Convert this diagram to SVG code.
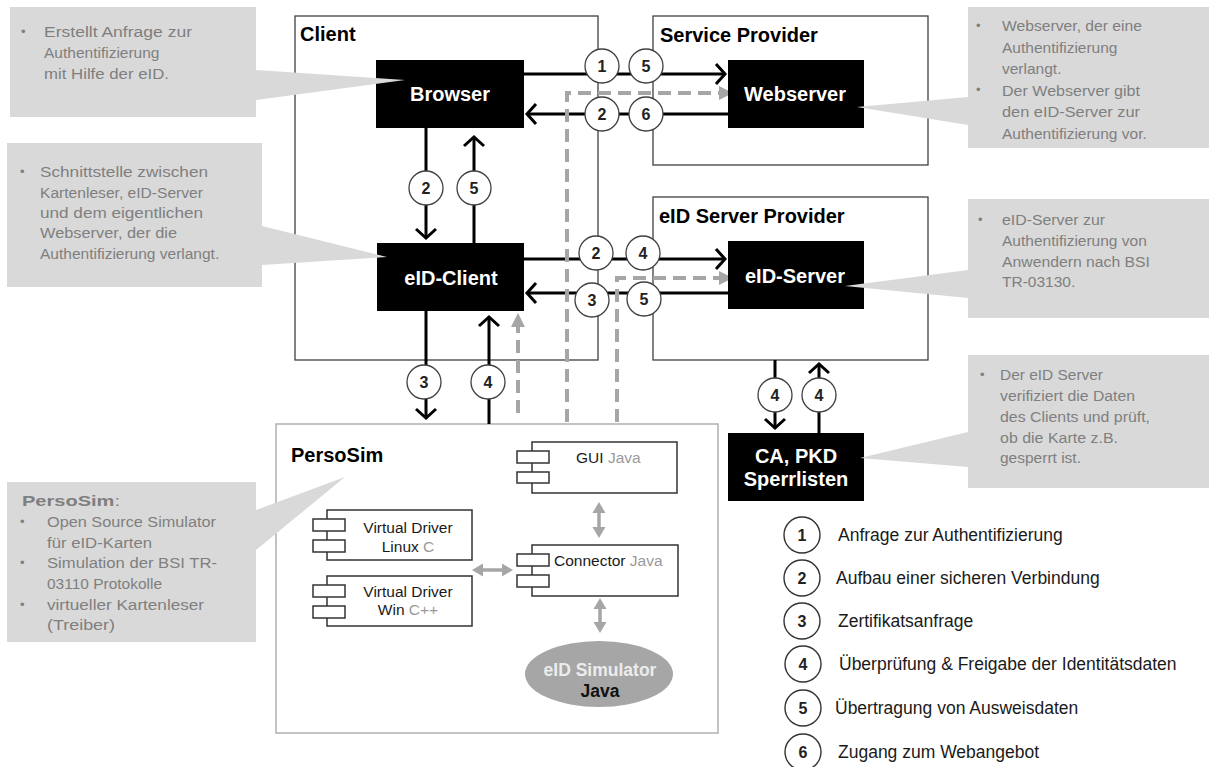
<svg xmlns="http://www.w3.org/2000/svg" width="1209" height="767" viewBox="0 0 1209 767">
<style>
text{font-family:"Liberation Sans",Arial,Helvetica,sans-serif}
.box{fill:#fff;stroke:#404040;stroke-width:1.3}
.pbox{fill:#fff;stroke:#b0b0b0;stroke-width:1.5}
.node{fill:#000}
.ntxt{font-weight:bold;font-size:20px;fill:#fff;text-anchor:middle}
.title{font-weight:bold;font-size:20px;fill:#000}
.call{fill:#d9d9d9}
.ct{font-size:15.5px;fill:#7f7f7f}
.bul{font-size:13px;fill:#7f7f7f}
.circ{fill:#fff;stroke:#404040;stroke-width:1.3}
.num{font-weight:bold;font-size:16px;fill:#222;text-anchor:middle}
.arr{stroke:#000;stroke-width:3;fill:none;marker-end:url(#ch)}
.dash{stroke:#a6a6a6;stroke-width:4;stroke-dasharray:13 7;fill:none;marker-end:url(#gt)}
.garr{stroke:#a6a6a6;stroke-width:3.5;fill:none;marker-start:url(#gh);marker-end:url(#gh)}
.comp{fill:#fff;stroke:#333;stroke-width:1.5}
.ctx{font-size:15.5px;fill:#1a1a1a}
.gr{fill:#9a9a9a}
.leg{font-size:17.5px;fill:#1a1a1a}
.lcirc{fill:#fff;stroke:#333;stroke-width:1.4}
</style>
<defs>
<marker id="ch" markerUnits="userSpaceOnUse" markerWidth="30" markerHeight="30" viewBox="-15 -15 30 30" refX="0" refY="0" orient="auto" overflow="visible">
<path d="M-9,-10 L0,0 L-9,10" fill="none" stroke="#000" stroke-width="3"/>
</marker>
<marker id="gt" markerUnits="userSpaceOnUse" markerWidth="30" markerHeight="30" viewBox="-15 -15 30 30" refX="0" refY="0" orient="auto" overflow="visible">
<path d="M-8,-7 L6,0 L-8,7 Z" fill="#a6a6a6"/>
</marker>
<marker id="gh" markerUnits="userSpaceOnUse" markerWidth="30" markerHeight="30" viewBox="-15 -15 30 30" refX="0" refY="0" orient="auto-start-reverse" overflow="visible">
<path d="M-5,-6.5 L6,0 L-5,6.5 Z" fill="#a6a6a6"/>
</marker>
</defs>

<g id="containers">
<g id="client-box"><rect class="box" x="295" y="16" width="303" height="344"/><text class="title" x="300" y="41">Client</text></g>
<g id="service-provider-box"><rect class="box" x="653" y="16" width="275" height="149"/><text class="title" x="660" y="42" font-size="19">Service Provider</text></g>
<g id="eid-server-provider-box"><rect class="box" x="653" y="197" width="275" height="163"/><text class="title" x="659" y="223" font-size="19">eID Server Provider</text></g>
<g id="persosim-box"><rect class="pbox" x="276" y="424" width="442" height="309"/><text class="title" x="291" y="462">PersoSim</text></g>
</g>

<g id="connectors">
<path class="arr" d="M524,74 H725"/>
<path class="arr" d="M728,114 H527"/>
<path class="arr" d="M524,259 H725"/>
<path class="arr" d="M728,293 H527"/>
<path class="arr" d="M426,128 V238"/>
<path class="arr" d="M474,243 V137"/>
<path class="arr" d="M426,311 V418"/>
<path class="arr" d="M489,424 V317"/>
<path class="arr" d="M775,360 V428"/>
<path class="arr" d="M819,433 V364"/>
<path class="dash" d="M567,422 V93 H727"/>
<path class="dash" d="M617,422 V278 H727"/>
<path class="dash" d="M518,413 V319"/>
<path class="garr" d="M599,508 V532"/>
<path class="garr" d="M600,604 V627"/>
<path class="garr" d="M478,570 H507"/>
</g>

<g id="step-labels">
<circle class="circ" cx="602" cy="66" r="17"/><text class="num" x="602" y="72">1</text>
<circle class="circ" cx="646" cy="66" r="17"/><text class="num" x="646" y="72">5</text>
<circle class="circ" cx="602" cy="114" r="17"/><text class="num" x="602" y="120">2</text>
<circle class="circ" cx="646" cy="114" r="17"/><text class="num" x="646" y="120">6</text>
<circle class="circ" cx="596" cy="253" r="17"/><text class="num" x="596" y="259">2</text>
<circle class="circ" cx="643" cy="253" r="17"/><text class="num" x="643" y="259">4</text>
<circle class="circ" cx="592" cy="300" r="17"/><text class="num" x="592" y="306">3</text>
<circle class="circ" cx="644" cy="299" r="17"/><text class="num" x="644" y="305">5</text>
<circle class="circ" cx="426" cy="188" r="17"/><text class="num" x="426" y="194">2</text>
<circle class="circ" cx="474" cy="188" r="17"/><text class="num" x="474" y="194">5</text>
<circle class="circ" cx="424" cy="382" r="17"/><text class="num" x="424" y="388">3</text>
<circle class="circ" cx="488" cy="382" r="17"/><text class="num" x="488" y="388">4</text>
<circle class="circ" cx="775" cy="395" r="17"/><text class="num" x="775" y="401">4</text>
<circle class="circ" cx="819" cy="395" r="17"/><text class="num" x="819" y="401">4</text>
</g>

<g id="browser"><rect class="node" x="376" y="60" width="148" height="68"/><text class="ntxt" x="450" y="101">Browser</text></g>
<g id="webserver"><rect class="node" x="728" y="60" width="136" height="68"/><text class="ntxt" x="795" y="101">Webserver</text></g>
<g id="eid-client"><rect class="node" x="377" y="243" width="147" height="68"/><text class="ntxt" x="451" y="285">eID-Client</text></g>
<g id="eid-server"><rect class="node" x="728" y="241" width="136" height="68"/><text class="ntxt" x="795" y="283">eID-Server</text></g>
<g id="ca-pkd"><rect class="node" x="728" y="433" width="136" height="68"/><text class="ntxt" x="796" y="463">CA, PKD</text><text class="ntxt" x="796" y="486">Sperrlisten</text></g>

<g id="gui-java">
<rect class="comp" x="532" y="442" width="145" height="51"/>
<rect class="comp" x="517" y="451" width="32" height="12"/><rect class="comp" x="517" y="472" width="32" height="11"/>
<text class="ctx" x="576" y="463">GUI <tspan class="gr">Java</tspan></text>
</g>
<g id="virtual-driver-linux">
<rect class="comp" x="327" y="510" width="145" height="50"/>
<rect class="comp" x="313" y="519" width="32" height="12"/><rect class="comp" x="313" y="540" width="32" height="12"/>
<text class="ctx" x="408" y="533" text-anchor="middle">Virtual Driver</text>
<text class="ctx" x="408" y="552" text-anchor="middle">Linux <tspan class="gr">C</tspan></text>
</g>
<g id="virtual-driver-win">
<rect class="comp" x="327" y="576" width="145" height="50"/>
<rect class="comp" x="313" y="585" width="32" height="12"/><rect class="comp" x="313" y="606" width="32" height="12"/>
<text class="ctx" x="408" y="597" text-anchor="middle">Virtual Driver</text>
<text class="ctx" x="408" y="615" text-anchor="middle">Win <tspan class="gr">C++</tspan></text>
</g>
<g id="connector-java">
<rect class="comp" x="532" y="545" width="146" height="51"/>
<rect class="comp" x="517" y="554" width="32" height="12"/><rect class="comp" x="517" y="575" width="32" height="12"/>
<text class="ctx" x="554" y="566">Connector <tspan class="gr">Java</tspan></text>
</g>
<g id="eid-simulator">
<ellipse cx="599" cy="674" rx="74" ry="33" fill="#a6a6a6"/>
<text x="600" y="676" font-weight="bold" font-size="17.5" fill="#ececec" text-anchor="middle">eID Simulator</text>
<text x="600" y="697" font-weight="bold" font-size="17.5" fill="#111" text-anchor="middle">Java</text>
</g>

<g id="callout-browser">
<path class="call" d="M10,7 H256 V70 L405,80 L256,100 V117 H10 Z"/>
<text class="bul" x="21" y="36">•</text>
<text class="ct" x="44" y="37" textLength="148" lengthAdjust="spacingAndGlyphs">Erstellt Anfrage zur</text>
<text class="ct" x="44" y="58">Authentifizierung</text>
<text class="ct" x="44" y="79" textLength="125" lengthAdjust="spacingAndGlyphs">mit Hilfe der eID.</text>
</g>
<g id="callout-webserver">
<path class="call" d="M968,7 H1209 V148 H968 V125 L857,107 L968,97 Z"/>
<text class="bul" x="976" y="30">•</text>
<text class="bul" x="976" y="94">•</text>
<text class="ct" x="1002" y="31" textLength="140" lengthAdjust="spacingAndGlyphs">Webserver, der eine</text>
<text class="ct" x="1002" y="52.5">Authentifizierung</text>
<text class="ct" x="1002" y="74">verlangt.</text>
<text class="ct" x="1002" y="95.5" textLength="138" lengthAdjust="spacingAndGlyphs">Der Webserver gibt</text>
<text class="ct" x="1002" y="117" textLength="138" lengthAdjust="spacingAndGlyphs">den eID-Server zur</text>
<text class="ct" x="1002" y="138.5">Authentifizierung vor.</text>
</g>
<g id="callout-eid-client">
<path class="call" d="M7,143 H262 V226 L387,257 L262,265 V287 H7 Z"/>
<text class="bul" x="20" y="176">•</text>
<text class="ct" x="40" y="177" textLength="168" lengthAdjust="spacingAndGlyphs">Schnittstelle zwischen</text>
<text class="ct" x="40" y="197.5" textLength="163" lengthAdjust="spacingAndGlyphs">Kartenleser, eID-Server</text>
<text class="ct" x="40" y="218" textLength="163" lengthAdjust="spacingAndGlyphs">und dem eigentlichen</text>
<text class="ct" x="40" y="238" textLength="137" lengthAdjust="spacingAndGlyphs">Webserver, der die</text>
<text class="ct" x="40" y="258.5">Authentifizierung verlangt.</text>
</g>
<g id="callout-eid-server">
<path class="call" d="M968,199 H1209 V318 H968 V298 L845,286 L968,270 Z"/>
<text class="bul" x="978" y="224">•</text>
<text class="ct" x="1002" y="225" textLength="103" lengthAdjust="spacingAndGlyphs">eID-Server zur</text>
<text class="ct" x="1002" y="246">Authentifizierung von</text>
<text class="ct" x="1002" y="267" textLength="148" lengthAdjust="spacingAndGlyphs">Anwendern nach BSI</text>
<text class="ct" x="1002" y="287">TR-03130.</text>
</g>
<g id="callout-ca">
<path class="call" d="M968,355 H1209 V488 H968 V467 L860,458 L968,432 Z"/>
<text class="bul" x="980" y="379">•</text>
<text class="ct" x="1000" y="380" textLength="103" lengthAdjust="spacingAndGlyphs">Der eID Server</text>
<text class="ct" x="1000" y="401" textLength="135" lengthAdjust="spacingAndGlyphs">verifiziert die Daten</text>
<text class="ct" x="1000" y="422" textLength="150" lengthAdjust="spacingAndGlyphs">des Clients und prüft,</text>
<text class="ct" x="1000" y="443" textLength="118" lengthAdjust="spacingAndGlyphs">ob die Karte z.B.</text>
<text class="ct" x="1000" y="463">gesperrt ist.</text>
</g>
<g id="callout-persosim">
<path class="call" d="M7,482 H256 V510 L345,477 L256,550 V642 H7 Z"/>
<text class="ct" x="22" y="506" textLength="98" lengthAdjust="spacingAndGlyphs"><tspan font-weight="bold">PersoSim</tspan>:</text>
<text class="bul" x="20" y="526">•</text>
<text class="bul" x="20" y="567">•</text>
<text class="bul" x="20" y="608.5">•</text>
<text class="ct" x="47" y="527" textLength="169" lengthAdjust="spacingAndGlyphs">Open Source Simulator</text>
<text class="ct" x="47" y="547.5" textLength="105" lengthAdjust="spacingAndGlyphs">für eID-Karten</text>
<text class="ct" x="47" y="568" textLength="170" lengthAdjust="spacingAndGlyphs">Simulation der BSI TR-</text>
<text class="ct" x="47" y="589" textLength="115" lengthAdjust="spacingAndGlyphs">03110 Protokolle</text>
<text class="ct" x="47" y="609.5" textLength="157" lengthAdjust="spacingAndGlyphs">virtueller Kartenleser</text>
<text class="ct" x="47" y="630" textLength="68" lengthAdjust="spacingAndGlyphs">(Treiber)</text>
</g>

<g id="legend">
<circle class="lcirc" cx="802" cy="535" r="18"/><text class="num" x="802" y="541">1</text>
<text class="leg" x="838" y="541">Anfrage zur Authentifizierung</text>
<circle class="lcirc" cx="802" cy="578" r="18"/><text class="num" x="802" y="584">2</text>
<text class="leg" x="836" y="584">Aufbau einer sicheren Verbindung</text>
<circle class="lcirc" cx="802" cy="621" r="18"/><text class="num" x="802" y="627">3</text>
<text class="leg" x="838" y="627">Zertifikatsanfrage</text>
<circle class="lcirc" cx="803" cy="664" r="18"/><text class="num" x="803" y="670">4</text>
<text class="leg" x="839" y="670">Überprüfung &amp; Freigabe der Identitätsdaten</text>
<circle class="lcirc" cx="803" cy="708" r="18"/><text class="num" x="803" y="714">5</text>
<text class="leg" x="835" y="714">Übertragung von Ausweisdaten</text>
<circle class="lcirc" cx="803" cy="752" r="18"/><text class="num" x="803" y="758">6</text>
<text class="leg" x="838" y="758">Zugang zum Webangebot</text>
</g>
</svg>
